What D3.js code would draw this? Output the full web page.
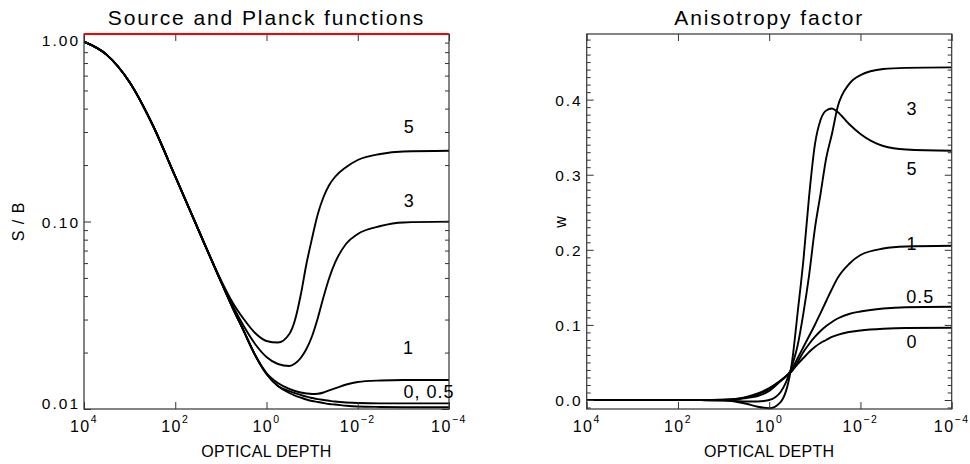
<!DOCTYPE html>
<html>
<head>
<meta charset="utf-8">
<script src="https://cdn.jsdelivr.net/npm/d3@7"></script>
<style>
  body { margin: 0; background: #fff; }
  svg { display: block; }
  text { font-family: "Liberation Sans", Arial, sans-serif; fill: #000; }
</style>
</head>
<body>
<svg id="chart" width="970" height="464"></svg>
<script>
// log10 of optical depth, shared by every curve
const tauExp = [4, 3.5, 3, 2.5, 2, 1.5, 1, 0.75, 0.5, 0.25, 0, -0.25, -0.5, -0.625, -0.75, -0.875,
                -1, -1.125, -1.25, -1.375, -1.5, -1.75, -2, -2.5, -3, -4];

// left panel: S / B
const sb0  = [0.910, 0.774, 0.553, 0.329, 0.1738, 0.0912, 0.0479, 0.0350, 0.0261, 0.0194, 0.01537, 0.01327, 0.01217,
              0.01180, 0.01151, 0.01124, 0.01103, 0.01090, 0.01076, 0.01063, 0.01057, 0.01041, 0.01031, 0.01025, 0.01022, 0.01021];
const sb05 = [0.910, 0.774, 0.553, 0.329, 0.1738, 0.0912, 0.0479, 0.0350, 0.0261, 0.0194, 0.01537, 0.01327, 0.01247,
              0.01214, 0.01188, 0.01163, 0.01145, 0.01129, 0.01117, 0.01106, 0.01096, 0.01083, 0.01076, 0.01072, 0.01072, 0.01072];
const sb1  = [0.910, 0.774, 0.553, 0.329, 0.1738, 0.0912, 0.0479, 0.0350, 0.0261, 0.0194, 0.01556, 0.01376, 0.01279,
              0.01247, 0.01225, 0.01210, 0.01202, 0.01206, 0.01225, 0.01256, 0.01287, 0.01351, 0.01393, 0.01419, 0.01428, 0.01428];
const sb3  = [0.910, 0.774, 0.553, 0.329, 0.1738, 0.0912, 0.0479, 0.03586, 0.02771, 0.02222, 0.01894, 0.01738, 0.01696,
              0.01748, 0.01871, 0.02089, 0.02451, 0.03057, 0.03958, 0.04996, 0.06008, 0.0763, 0.0858, 0.0946, 0.0988, 0.0998];
const sb5  = [0.910, 0.774, 0.553, 0.329, 0.1738, 0.0912, 0.0488, 0.0372, 0.0302, 0.02542, 0.02305, 0.02262, 0.02512,
              0.02983, 0.04055, 0.05934, 0.0817, 0.1096, 0.1351, 0.1565, 0.1727, 0.1953, 0.2128, 0.2291, 0.2362, 0.2385];
const planckTau = [1e4, 1e-4];
const planckVal = [1, 1];

// right panel: anisotropy factor w
const w0  = [0, 0, 0, 0, 0, 0, 0.0004, 0.0013, 0.004, 0.0087, 0.016, 0.026, 0.0386,
             0.0479, 0.0559, 0.0639, 0.0706, 0.0759, 0.0799, 0.0839, 0.0866, 0.0905, 0.0925, 0.0948, 0.0959, 0.0963];
const w05 = [0, 0, 0, 0, 0, 0, 0.0004, 0.0012, 0.0035, 0.0075, 0.0145, 0.0255, 0.039,
             0.0506, 0.0639, 0.0746, 0.0839, 0.0919, 0.0985, 0.1039, 0.1085, 0.1145, 0.1178, 0.1218, 0.1236, 0.1242];
const w1  = [0, 0, 0, 0, 0, 0, 0.0002, 0.0007, 0.0027, 0.0053, 0.012, 0.0253, 0.0413,
             0.0559, 0.0706, 0.0852, 0.0999, 0.1158, 0.1318, 0.1478, 0.1625, 0.1811, 0.1931, 0.2017, 0.2044, 0.2055];
const w3  = [0, 0, 0, 0, 0, 0, -0.0007, -0.0013, -0.002, -0.002, 0, 0.0107, 0.0453,
             0.0732, 0.1158, 0.1664, 0.2277, 0.2743, 0.3222, 0.3542, 0.3901, 0.4207, 0.4327, 0.4407, 0.4423, 0.443];
const w5  = [0, 0, 0, 0, 0, -0.0002, -0.0005, -0.002, -0.005, -0.009, -0.011, -0.0027, 0.0506,
             0.1172, 0.1864, 0.2716, 0.3395, 0.3728, 0.3855, 0.3881, 0.3835, 0.3675, 0.3542, 0.3382, 0.3336, 0.332];

// curve labels: text, log10 tau, value
const leftLabels   = ['5', '3', '1', '0, 0.5'];
const leftLabelTau = [-3.13, -3.13, -3.11, -3.0];
const leftLabelVal = [0.320, 0.129, 0.0214, 0.01233];
const leftLabelAnchor = ['middle', 'middle', 'middle', 'start'];

const rightLabels   = ['3', '5', '1', '0.5', '0'];
const rightLabelTau = [-3.13, -3.13, -3.13, -3.31, -3.13];
const rightLabelVal = [0.388, 0.3085, 0.2087, 0.1375, 0.0776];

const xTickExps = [4, 2, 0, -2, -4];
const sbMajor = [0.01, 0.1, 1];
const wMajor = [0, 0.1, 0.2, 0.3, 0.4];

const svg = d3.select('#chart');
const plotTop = 34, plotBottom = 409, plotW = 365;
const tau = tauExp.map(e => Math.pow(10, e));

function drawPanel(cfg) {
    const g = svg.append('g');
    const x = d3.scaleLog().domain([1e4, 1e-4]).range([cfg.left, cfg.left + plotW]);
    const y = cfg.y;

    const clipId = 'clip' + Math.round(cfg.left);
    g.append('clipPath').attr('id', clipId)
        .append('rect').attr('x', cfg.left).attr('y', plotTop - 2)
        .attr('width', plotW).attr('height', plotBottom - plotTop + 4);

    const line = d3.line()
        .x(d => x(d[0]))
        .y(d => y(d[1]))
        .curve(d3.curveMonotoneX);

    cfg.series.forEach(vals => {
        g.append('path')
            .datum(tau.map((t, i) => [t, vals[i]]))
            .attr('clip-path', `url(#${clipId})`)
            .attr('fill', 'none')
            .attr('stroke', '#000')
            .attr('stroke-width', 1.9)
            .attr('d', line);
    });

    // axes, IDL style: ticks point inward on all four sides
    const axes = g.append('g').attr('color', '#333');
    const xt = xTickExps.map(e => Math.pow(10, e));
    axes.append('g').attr('transform', `translate(0,${plotBottom})`)
        .call(d3.axisBottom(x).tickValues(xt).tickSize(-7).tickFormat(''));
    axes.append('g').attr('transform', `translate(0,${plotTop})`)
        .call(d3.axisTop(x).tickValues(xt).tickSize(-7).tickFormat(''));

    axes.append('g').attr('transform', `translate(${cfg.left},0)`)
        .call(d3.axisLeft(y).tickValues(cfg.yMinor).tickSize(-4).tickFormat(''));
    axes.append('g').attr('transform', `translate(${cfg.left + plotW},0)`)
        .call(d3.axisRight(y).tickValues(cfg.yMinor).tickSize(-4).tickFormat(''));
    axes.append('g').attr('transform', `translate(${cfg.left + plotW},0)`)
        .call(d3.axisRight(y).tickValues(cfg.yMajor).tickSize(-7).tickFormat(''));

    const yl = axes.append('g').attr('transform', `translate(${cfg.left},0)`)
        .call(d3.axisLeft(y).tickValues(cfg.yMajor).tickSizeInner(-7).tickSizeOuter(0)
            .tickPadding(4).tickFormat(cfg.yFormat));
    yl.selectAll('text')
        .style('font-family', '"Liberation Sans", Arial, sans-serif')
        .style('font-size', '15.5px')
        .style('letter-spacing', '2px')
        .attr('fill', '#000')
        .attr('y', d => cfg.labelShift(d));

    axes.selectAll('.domain').remove();

    g.append('rect')
        .attr('x', cfg.left).attr('y', plotTop)
        .attr('width', plotW).attr('height', plotBottom - plotTop)
        .attr('fill', 'none').attr('stroke', '#333').attr('stroke-width', 1.2);

    // x tick labels: 10 with superscript exponent
    xTickExps.forEach(e => {
        const t = g.append('text')
            .attr('x', x(Math.pow(10, e)))
            .attr('y', plotBottom + 23)
            .attr('text-anchor', 'middle')
            .style('font-size', '16px')
            .style('letter-spacing', '1.5px');
        t.append('tspan').text('10');
        t.append('tspan').attr('dy', -9).style('font-size', '10.5px')
            .text(e < 0 ? '\u2212' + Math.abs(e) : String(e));
    });

    g.append('text')
        .attr('x', cfg.left + plotW / 2)
        .attr('y', plotBottom + 48)
        .attr('text-anchor', 'middle')
        .style('font-size', '16px')
        .style('letter-spacing', '0.3px')
        .text('OPTICAL DEPTH');

    g.append('text')
        .attr('x', cfg.left + plotW / 2)
        .attr('y', 25)
        .attr('text-anchor', 'middle')
        .style('font-size', '21px')
        .style('letter-spacing', '1.9px')
        .text(cfg.title);

    g.append('text')
        .attr('transform', `translate(${cfg.yTitleX},${(plotTop + plotBottom) / 2}) rotate(-90)`)
        .attr('text-anchor', 'middle')
        .style('font-size', '16px')
        .style('letter-spacing', '1px')
        .text(cfg.yTitle);

    cfg.labels.forEach((txt, i) => {
        g.append('text')
            .attr('x', x(Math.pow(10, cfg.labelTau[i])))
            .attr('y', y(cfg.labelVal[i]))
            .attr('dy', '0.36em')
            .attr('text-anchor', cfg.labelAnchor ? cfg.labelAnchor[i] : 'middle')
            .style('font-size', '18px')
            .style('letter-spacing', '1px')
            .text(txt);
    });

    return { g, x, y };
}

// left panel
const ySB = d3.scaleLog().domain([0.01, 1]).range([plotBottom, plotTop]);
const sbMinor = [];
[0.01, 0.1].forEach(dec => { for (let k = 2; k <= 9; k++) sbMinor.push(dec * k); });

const left = drawPanel({
    left: 84,
    y: ySB,
    series: [sb0, sb05, sb1, sb3, sb5],
    yMajor: sbMajor,
    yMinor: sbMinor,
    yFormat: d3.format('.2f'),
    labelShift: d => d === 1 ? 7 : (d === 0.01 ? -5 : 1),
    title: 'Source and Planck functions',
    yTitle: 'S / B',
    yTitleX: 24,
    labels: leftLabels,
    labelTau: leftLabelTau,
    labelVal: leftLabelVal,
    labelAnchor: leftLabelAnchor
});

// Planck function, B / B = 1
left.g.append('path')
    .datum(planckTau.map((t, i) => [t, planckVal[i]]))
    .attr('fill', 'none')
    .attr('stroke', '#ff0000')
    .attr('stroke-width', 2)
    .attr('d', d3.line().x(d => left.x(d[0])).y(d => left.y(d[1])));

// right panel
const yW = d3.scaleLinear().domain([-0.012, 0.4874]).range([plotBottom, plotTop]);
const wMinor = d3.range(-1, 49).map(k => k / 100).filter(v => wMajor.indexOf(v) < 0);

drawPanel({
    left: 586.7,
    y: yW,
    series: [w0, w05, w1, w3, w5],
    yMajor: wMajor,
    yMinor: wMinor,
    yFormat: d3.format('.1f'),
    labelShift: () => 1,
    title: 'Anisotropy factor',
    yTitle: 'w',
    yTitleX: 566,
    labels: rightLabels,
    labelTau: rightLabelTau,
    labelVal: rightLabelVal
});
</script>
</body>
</html>
